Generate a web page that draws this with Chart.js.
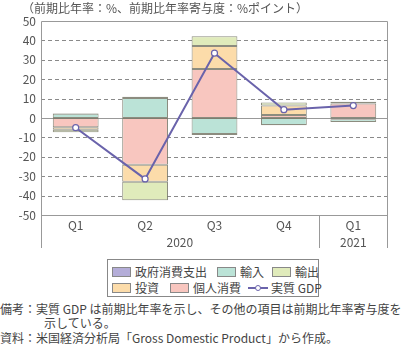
<!DOCTYPE html>
<html lang="ja">
<head>
<meta charset="UTF-8">
<title>米国実質GDP成長率と寄与度</title>
<style>
  body { margin: 0; background: #fff; font-family: 'Noto Sans CJK JP', 'Noto Sans', sans-serif; color: #444; }
  .wrap { position: relative; width: 406px; height: 344px; overflow: hidden; }
  .unit { position: absolute; left: 22px; top: 0; font-size: 12px; line-height: 16px; color: #555; white-space: nowrap; }
  #chart { position: absolute; left: 0; top: 0; }
  .legend { position: absolute; left: 107px; top: 259px; width: 212px; height: 38px; border: 1px solid #888; box-sizing: border-box; }
  .item { position: absolute; font-size: 12px; line-height: 14px; white-space: nowrap; color: #444; }
  .swatch { position: absolute; width: 19px; height: 10px; border: 1px solid #888; box-sizing: border-box; }
  .note { position: absolute; left: 0; font-size: 12px; line-height: 14px; color: #444; white-space: nowrap; }
</style>
</head>
<body>
<div class="wrap">
  <canvas id="chart" width="406" height="255"></canvas>
  <div class="unit">（前期比年率：%、前期比年率寄与度：%ポイント）</div>
  <div class="legend" id="legend"></div>
  <div class="note" style="top:302px">備考：実質 GDP は前期比年率を示し、その他の項目は前期比年率寄与度を</div>
  <div class="note" style="top:316px;left:44px">示している。</div>
  <div class="note" style="top:331px">資料：米国経済分析局「Gross Domestic Product」から作成。</div>
</div>

<script src="https://cdn.jsdelivr.net/npm/chart.js"></script>
<script>
  // 四半期ラベルと年
  const quarters = ['Q1', 'Q2', 'Q3', 'Q4', 'Q1'];
  const years = ['2020', '2021'];
  const yearSpans = [[0, 3], [4, 4]];

  // 寄与度（%ポイント）と実質GDP（前期比年率%）
  const consumption = [-4.8, -24.1, 25.3, 1.6, 7.5];
  const investment  = [-1.3, -8.7, 11.8, 4.9, -0.4];
  const exportsData = [-1.3, -9.6, 5.1, 1.5, -0.3];
  const importsData = [2.2, 10.3, -8.2, -3.6, -1.3];
  const government  = [0.2, 0.7, -0.6, -0.1, 0.9];
  const realGdp     = [-5.0, -31.4, 33.4, 4.3, 6.4];

  const FONT = "'Noto Sans CJK JP', 'Noto Sans', sans-serif";
  const LINE = '#6a63ab';
  const EDGE = 'rgba(120,120,105,0.85)';
  const colors = {
    consumption: '#f8c6bf',
    investment: '#fcdcaa',
    exports: '#e0ebbb',
    imports: '#bbe3d7',
    government: '#b4add8'
  };

  function bar(label, data, color) {
    return { type: 'bar', label, data, backgroundColor: color, borderColor: EDGE, borderWidth: 1,
             borderSkipped: false, stack: 's', order: 1, categoryPercentage: 1, barPercentage: 0.66 };
  }

  // グリッド・枠線・年ラベル
  const frame = {
    id: 'frame',
    beforeDatasetsDraw(chart) {
      const { ctx, chartArea: a, scales: { y } } = chart;
      ctx.save();
      ctx.lineWidth = 1;
      ctx.strokeStyle = '#8a8a8a';
      ctx.setLineDash([4, 3]);
      for (let v = -40; v <= 40; v += 10) {
        if (v === 0) continue;
        const py = Math.round(y.getPixelForValue(v)) + 0.5;
        ctx.beginPath(); ctx.moveTo(a.left, py); ctx.lineTo(a.right, py); ctx.stroke();
      }
      ctx.setLineDash([]);
      ctx.strokeStyle = '#999';
      const z = Math.round(y.getPixelForValue(0)) + 0.5;
      ctx.beginPath(); ctx.moveTo(a.left, z); ctx.lineTo(a.right, z); ctx.stroke();
      ctx.restore();
    },
    afterDraw(chart) {
      const { ctx, chartArea: a, scales: { x } } = chart;
      const L = Math.round(a.left) + 0.5, R = Math.round(a.right) - 0.5;
      const T = Math.round(a.top) + 0.5, B = Math.round(a.bottom) + 0.5;
      const foot = 248;
      ctx.save();
      ctx.strokeStyle = '#999';
      ctx.lineWidth = 1;
      ctx.beginPath();
      ctx.moveTo(L, T); ctx.lineTo(R, T);
      ctx.moveTo(L, B); ctx.lineTo(R, B);
      ctx.moveTo(L, T); ctx.lineTo(L, foot);
      ctx.moveTo(R, T); ctx.lineTo(R, foot);
      const sep = Math.round((x.getPixelForValue(3) + x.getPixelForValue(4)) / 2) + 0.5;
      ctx.moveTo(sep, B); ctx.lineTo(sep, foot);
      ctx.stroke();
      ctx.fillStyle = '#555';
      ctx.font = '12px ' + FONT;
      ctx.textAlign = 'center';
      ctx.textBaseline = 'middle';
      years.forEach((yr, i) => {
        const [s, e] = yearSpans[i];
        const cx = (x.getPixelForValue(s) + x.getPixelForValue(e)) / 2;
        ctx.fillText(yr, cx, 242);
      });
      ctx.restore();
    }
  };

  new Chart(document.getElementById('chart'), {
    data: {
      labels: quarters,
      datasets: [
        { type: 'line', label: '実質 GDP', data: realGdp, borderColor: LINE, borderWidth: 2,
          pointRadius: 3, pointBackgroundColor: '#fff', pointBorderColor: LINE, pointBorderWidth: 1.2,
          tension: 0, order: 0 },
        bar('個人消費', consumption, colors.consumption),
        bar('投資', investment, colors.investment),
        bar('輸出', exportsData, colors.exports),
        bar('輸入', importsData, colors.imports),
        bar('政府消費支出', government, colors.government)
      ]
    },
    options: {
      responsive: false,
      animation: false,
      layout: { padding: { top: 21, right: 18, left: 0, bottom: 0 } },
      plugins: { legend: { display: false }, tooltip: { enabled: false } },
      scales: {
        x: {
          stacked: true,
          grid: { display: false, drawTicks: false },
          border: { display: false },
          ticks: { color: '#555', font: { family: FONT, size: 12 }, padding: 3 },
          afterFit(s) { s.height = 40; }
        },
        y: {
          stacked: true,
          min: -50, max: 50,
          grid: { display: false, drawTicks: false },
          border: { display: false },
          ticks: { stepSize: 10, color: '#555', font: { family: FONT, size: 12 }, padding: 5 },
          afterFit(s) { s.width = 41; }
        }
      }
    },
    plugins: [frame]
  });

  // 凡例
  const legendRows = [
    [['政府消費支出', colors.government, 4], ['輸入', colors.imports, 109], ['輸出', colors.exports, 164]],
    [['投資', colors.investment, 4], ['個人消費', colors.consumption, 62], ['実質 GDP', null, 140]]
  ];
  const legend = document.getElementById('legend');
  legendRows.forEach((row, r) => {
    const top = r === 0 ? 5 : 21;
    row.forEach(([text, color, left]) => {
      if (color) {
        const sw = document.createElement('div');
        sw.className = 'swatch';
        sw.style.cssText = `left:${left}px;top:${top + 2}px;background:${color}`;
        legend.appendChild(sw);
      } else {
        const ln = document.createElement('div');
        ln.style.cssText = `position:absolute;left:${left}px;top:${top + 6}px;width:20px;height:2px;background:${LINE}`;
        const dot = document.createElement('div');
        dot.style.cssText = `position:absolute;left:${left + 7}px;top:${top + 4}px;width:4px;height:4px;border:1px solid ${LINE};border-radius:50%;background:#fff`;
        legend.appendChild(ln);
        legend.appendChild(dot);
      }
      const t = document.createElement('div');
      t.className = 'item';
      t.style.cssText = `left:${left + 23}px;top:${top}px`;
      t.textContent = text;
      legend.appendChild(t);
    });
  });
</script>
</body>
</html>
